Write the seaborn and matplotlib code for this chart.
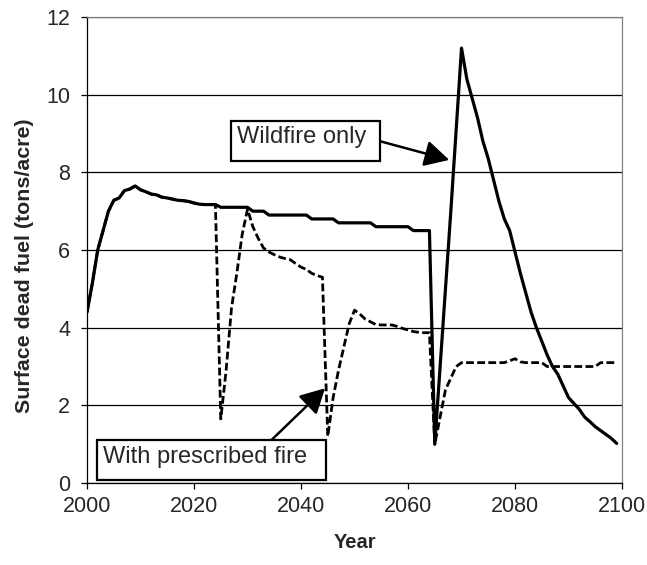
import matplotlib
matplotlib.use("Agg")
import matplotlib.pyplot as plt
import seaborn as sns
from matplotlib.patches import Rectangle, FancyArrowPatch

# ------------------------------
# Data
# ------------------------------
years = list(range(2000, 2100))

# 2000-2024: both scenarios identical
shared_start = [4.4, 5.15, 6.0, 6.5, 7.0, 7.28, 7.34, 7.53, 7.57, 7.65,
                7.55, 7.5, 7.44, 7.42, 7.36, 7.34, 7.31, 7.28, 7.27, 7.25,
                7.21, 7.18, 7.17, 7.17, 7.17]

# 2025-2099, wildfire only
wildfire_tail = [7.1, 7.1, 7.1, 7.1, 7.1, 7.1, 7.0, 7.0, 7.0, 6.9,
                 6.9, 6.9, 6.9, 6.9, 6.9, 6.9, 6.9, 6.8, 6.8, 6.8,
                 6.8, 6.8, 6.7, 6.7, 6.7, 6.7, 6.7, 6.7, 6.7, 6.6,
                 6.6, 6.6, 6.6, 6.6, 6.6, 6.6, 6.5, 6.5, 6.5, 6.5,
                 1.0, 3.0, 5.0, 7.0, 9.1, 11.2, 10.4, 9.9, 9.4, 8.8,
                 8.35, 7.8, 7.25, 6.8, 6.5, 5.95, 5.4, 4.9, 4.4, 4.0,
                 3.65, 3.3, 3.0, 2.8, 2.5, 2.2, 2.05, 1.9, 1.7, 1.58,
                 1.45, 1.35, 1.25, 1.15, 1.02]

# 2025-2099, with prescribed fire
prescribed_tail = [1.65, 2.9, 4.5, 5.4, 6.4, 7.05, 6.6, 6.3, 6.05, 5.95,
                   5.88, 5.82, 5.78, 5.75, 5.65, 5.56, 5.5, 5.4, 5.34, 5.3,
                   1.2, 2.2, 2.9, 3.5, 4.1, 4.45, 4.35, 4.22, 4.15, 4.08,
                   4.07, 4.07, 4.07, 4.03, 3.98, 3.94, 3.9, 3.88, 3.87, 3.87,
                   1.0, 1.7, 2.4, 2.7, 3.0, 3.1, 3.1, 3.1, 3.1, 3.1,
                   3.1, 3.1, 3.1, 3.1, 3.15, 3.2, 3.12, 3.1, 3.1, 3.1,
                   3.1, 3.0, 3.0, 3.0, 3.0, 3.0, 3.0, 3.0, 3.0, 3.0,
                   3.0, 3.1, 3.1, 3.1, 3.1]

wildfire_only = shared_start + wildfire_tail
with_prescribed = shared_start + prescribed_tail

x_ticks = [2000, 2020, 2040, 2060, 2080, 2100]
y_ticks = [0, 2, 4, 6, 8, 10, 12]

# ------------------------------
# Plot
# ------------------------------
sns.set_style("ticks")
plt.rcParams["font.family"] = ["Liberation Sans", "DejaVu Sans"]

fig = plt.figure(figsize=(6.47, 5.65), dpi=100)
ax = fig.add_axes([0.1345, 0.1451, 0.8269, 0.8248])

sns.lineplot(x=years, y=with_prescribed, ax=ax, color="black", lw=2.0,
             linestyle=(0, (2.8, 1.2)), estimator=None)
sns.lineplot(x=years, y=wildfire_only, ax=ax, color="black", lw=2.3,
             estimator=None)

ax.set_xlim(2000, 2100)
ax.set_ylim(0, 12)
ax.set_xticks(x_ticks)
ax.set_yticks(y_ticks)
ax.yaxis.grid(True, color="black", lw=0.9)
ax.set_axisbelow(True)

for side in ["left", "bottom"]:
    ax.spines[side].set_color("black")
    ax.spines[side].set_linewidth(0.9)
for side in ["top", "right"]:
    ax.spines[side].set_visible(True)
    ax.spines[side].set_color("#808080")
    ax.spines[side].set_linewidth(0.9)

ax.tick_params(axis="both", direction="out", length=4, width=0.9,
               color="black", labelsize=15.5)
ax.tick_params(axis="y", pad=8)
ax.tick_params(axis="x", pad=5)

ax.set_xlabel("Year", fontsize=14.5, fontweight="bold", labelpad=12)
ax.set_ylabel("Surface dead fuel (tons/acre)", fontsize=15.4,
              fontweight="bold", labelpad=9, y=0.466)

# text boxes + arrows
ax.add_patch(Rectangle((2026.9, 8.30), 27.9, 1.03, facecolor="white",
                       edgecolor="black", lw=1.6, zorder=5))
ax.text(2028.1, 8.75, "Wildfire only", fontsize=17, ha="left",
        va="baseline", zorder=6)
ax.add_patch(FancyArrowPatch((2054.8, 8.80), (2067.7, 8.32),
                             arrowstyle="-|>,head_length=0.75,head_width=0.4",
                             mutation_scale=20, lw=1.8, color="black",
                             shrinkA=0, shrinkB=0, zorder=6))

ax.add_patch(Rectangle((2001.8, 0.08), 42.8, 1.03, facecolor="white",
                       edgecolor="black", lw=1.6, zorder=5))
ax.text(2003.0, 0.51, "With prescribed fire", fontsize=17, ha="left",
        va="baseline", zorder=6)
ax.add_patch(FancyArrowPatch((2034.5, 1.11), (2044.5, 2.44),
                             arrowstyle="-|>,head_length=0.75,head_width=0.4",
                             mutation_scale=20, lw=1.8, color="black",
                             shrinkA=0, shrinkB=0, zorder=6))

fig.savefig("out.png", dpi=100)
